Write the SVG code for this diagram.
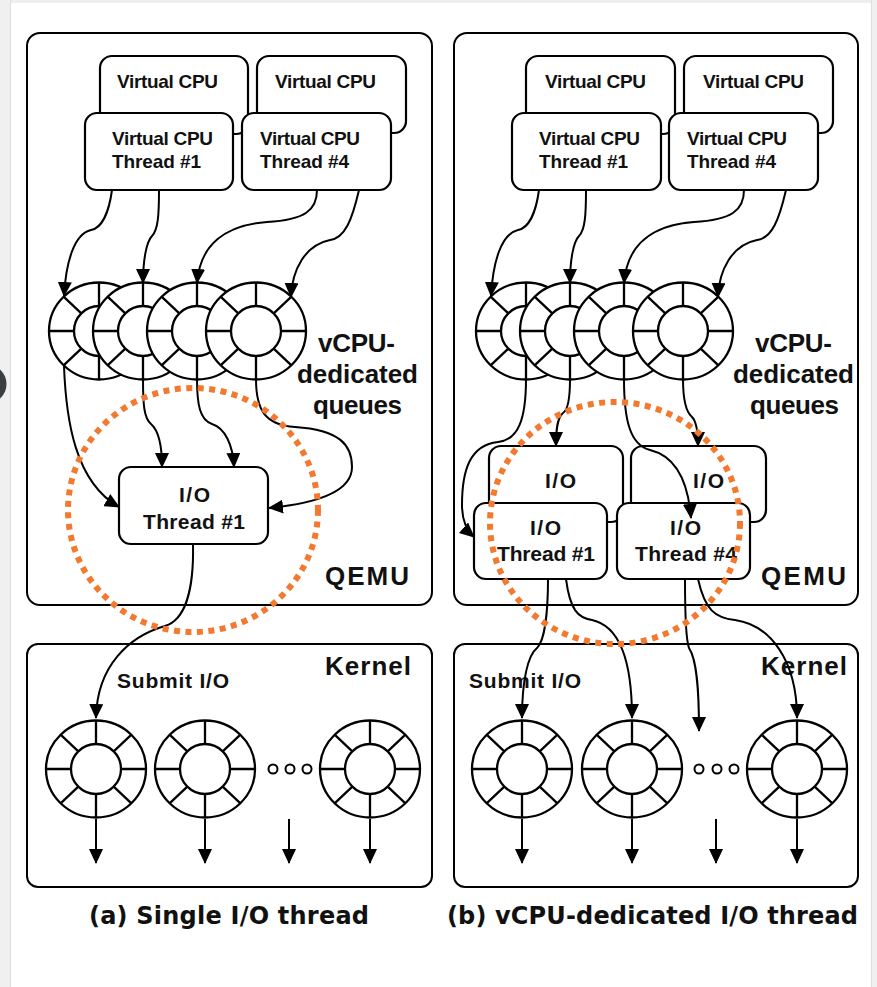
<svg xmlns="http://www.w3.org/2000/svg" xmlns:xlink="http://www.w3.org/1999/xlink" width="877" height="987" viewBox="0 0 877 987">
  <style>
    .frame { fill: #fff; stroke: #000; stroke-width: 2; }
    .box { fill: #fff; stroke: #000; stroke-width: 2.2; }
    .ringline { stroke: #000; stroke-width: 2.3; fill: none; }
    .conn { fill: none; stroke: #000; stroke-width: 2; marker-end: url(#arrow); }
    .t { font-family: "Liberation Sans", Arial, sans-serif; font-weight: bold; fill: #111; }
    .sm { font-size: 19px; }
    .md { font-size: 21px; }
    .lg { font-size: 26px; }
    .cap { font-family: "DejaVu Sans", "Liberation Sans", sans-serif; font-weight: bold; font-size: 24px; fill: #111; }
    .focus { fill: none; stroke: #F27A30; stroke-width: 6; stroke-dasharray: 6 5.5; }
  </style>
  <defs>
    <marker id="arrow" viewBox="0 0 15 14" refX="14" refY="7" markerWidth="15" markerHeight="14" markerUnits="userSpaceOnUse" orient="auto">
      <path d="M0,0 L15,7 L0,14 Z" fill="#000"/>
    </marker>
    <g id="ring">
      <ellipse rx="50" ry="48.5" fill="#fff" stroke="#000" stroke-width="2.3"/>
      <path class="ringline" d="M0,-48.5V-25 M0,25V48.5 M-50,0H-25 M25,0H50 M-35.4,-34.3L-17.7,-17.7 M35.4,-34.3L17.7,-17.7 M-35.4,34.3L-17.7,17.7 M35.4,34.3L17.7,17.7"/>
      <circle r="25" fill="#fff" stroke="#000" stroke-width="2.3"/>
    </g>
  </defs>

  <!-- page background and window edges -->
  <rect width="877" height="987" fill="#fff"/>
  <rect x="0" y="0" width="877" height="3" fill="#eeeeee"/>
  <rect x="0" y="0" width="10" height="987" fill="#f0f0f0"/>
  <rect x="10" y="0" width="1" height="987" fill="#dedede"/>
  <rect x="872" y="0" width="5" height="987" fill="#f0f0f0"/>
  <rect x="871" y="0" width="1" height="987" fill="#dedede"/>
  <circle cx="-13" cy="384" r="19.5" fill="#3b3e43"/>

  <!-- ===== (a) single I/O thread ===== -->
  <g id="qemu-a"><rect class="frame" x="27" y="33" width="405" height="572" rx="13"/></g>
  <g id="kernel-a"><rect class="frame" x="27" y="644" width="405" height="243" rx="11"/></g>

  <g id="vcpu-a-1"><rect class="box" x="100" y="56" width="148" height="78" rx="12"/><text class="t sm" x="117" y="88" textLength="101">Virtual CPU</text></g>
  <g id="vcpu-a-4"><rect class="box" x="257" y="56" width="149" height="77" rx="12"/><text class="t sm" x="275" y="88" textLength="101">Virtual CPU</text></g>
  <g id="vcpu-thread-a-1"><rect class="box" x="85" y="113" width="148" height="77" rx="12"/><text class="t sm" x="112" y="145" textLength="101">Virtual CPU</text><text class="t sm" x="112" y="168" textLength="89">Thread #1</text></g>
  <g id="vcpu-thread-a-4"><rect class="box" x="242" y="113" width="149" height="77" rx="12"/><text class="t sm" x="260" y="145" textLength="100">Virtual CPU</text><text class="t sm" x="260" y="168" textLength="89">Thread #4</text></g>

  <g id="queue-a-1"><use xlink:href="#ring" x="99" y="331"/></g>
  <g id="queue-a-2"><use xlink:href="#ring" x="143" y="331"/></g>
  <g id="queue-a-3"><use xlink:href="#ring" x="197" y="331"/></g>
  <g id="queue-a-4"><use xlink:href="#ring" x="256" y="331"/></g>
  <g id="queues-label-a"><text class="t lg" x="318" y="352" textLength="77">vCPU-</text><text class="t lg" x="297" y="383" textLength="121">dedicated</text><text class="t lg" x="313" y="414" textLength="89">queues</text></g>

  <g id="io-thread-a-1"><rect class="box" x="119" y="467" width="149" height="77" rx="12"/><text class="t md" x="179" y="502" textLength="31">I/O</text><text class="t md" x="143" y="529" textLength="102">Thread #1</text></g>
  <g id="qemu-label-a"><text class="t lg" x="325" y="585" textLength="84">QEMU</text></g>

  <g id="kernel-label-a"><text class="t lg" x="325" y="675" textLength="86">Kernel</text><text class="t md" x="117" y="688" textLength="112">Submit I/O</text></g>
  <g id="hwq-a-1"><use xlink:href="#ring" x="96" y="769"/></g>
  <g id="hwq-a-2"><use xlink:href="#ring" x="205" y="769"/></g>
  <g id="hwq-a-n"><use xlink:href="#ring" x="370" y="769"/></g>
  <g id="ellipsis-a" fill="#fff" stroke="#000" stroke-width="2"><circle cx="273" cy="769" r="4.5"/><circle cx="290" cy="769" r="4.5"/><circle cx="307" cy="769" r="4.5"/></g>

  <g id="connectors-a">
    <path class="conn" d="M112,190 C109,212 102,228 91,230 C74,234 66,262 64,296"/>
    <path class="conn" d="M159,190 C159,215 158,230 152,236 C146,242 143,262 143,283"/>
    <path class="conn" d="M317,190 C317,210 305,220 267,222 C225,225 200,245 197,283"/>
    <path class="conn" d="M359,190 C352,220 345,238 330,240 C305,245 292,270 291,297"/>
    <path class="conn" d="M64,366 C66,420 75,482 119,507"/>
    <path class="conn" d="M143,379 C143,405 144,418 151,424 C158,430 162,445 162,467"/>
    <path class="conn" d="M197,379 C197,405 200,420 212,424 C225,428 233,445 234,467"/>
    <path class="conn" d="M256,379 C256,410 265,425 295,427 C340,430 352,445 352,467 C352,490 320,503 269,508"/>
    <path class="conn" d="M193,544 C194,590 185,620 165,626 C130,636 97,665 96,718"/>
    <path class="conn" d="M96,819 V863"/>
    <path class="conn" d="M205,819 V863"/>
    <path class="conn" d="M289,819 V863"/>
    <path class="conn" d="M370,819 V863"/>
  </g>
  <ellipse id="focus-a" class="focus" cx="193" cy="510" rx="125" ry="122"/>
  <text class="cap" x="89" y="924" textLength="280">(a) Single I/O thread</text>

  <!-- ===== (b) vCPU-dedicated I/O thread ===== -->
  <g id="qemu-b"><rect class="frame" x="454" y="33" width="404" height="572" rx="13"/></g>
  <g id="kernel-b"><rect class="frame" x="454" y="644" width="404" height="243" rx="11"/></g>

  <g id="vcpu-b-1"><rect class="box" x="526" y="56" width="149" height="78" rx="12"/><text class="t sm" x="545" y="88" textLength="101">Virtual CPU</text></g>
  <g id="vcpu-b-4"><rect class="box" x="684" y="56" width="149" height="77" rx="12"/><text class="t sm" x="703" y="88" textLength="101">Virtual CPU</text></g>
  <g id="vcpu-thread-b-1"><rect class="box" x="512" y="113" width="149" height="77" rx="12"/><text class="t sm" x="539" y="145" textLength="101">Virtual CPU</text><text class="t sm" x="539" y="168" textLength="89">Thread #1</text></g>
  <g id="vcpu-thread-b-4"><rect class="box" x="669" y="113" width="149" height="77" rx="12"/><text class="t sm" x="687" y="145" textLength="100">Virtual CPU</text><text class="t sm" x="687" y="168" textLength="89">Thread #4</text></g>

  <g id="queue-b-1"><use xlink:href="#ring" x="526" y="331"/></g>
  <g id="queue-b-2"><use xlink:href="#ring" x="570" y="331"/></g>
  <g id="queue-b-3"><use xlink:href="#ring" x="624" y="331"/></g>
  <g id="queue-b-4"><use xlink:href="#ring" x="683" y="331"/></g>
  <g id="queues-label-b"><text class="t lg" x="755" y="352" textLength="77">vCPU-</text><text class="t lg" x="733" y="383" textLength="121">dedicated</text><text class="t lg" x="750" y="414" textLength="89">queues</text></g>

  <g id="io-b-1"><rect class="box" x="489" y="446" width="134" height="76" rx="12"/><text class="t md" x="545" y="488" textLength="31">I/O</text></g>
  <g id="io-b-4"><rect class="box" x="631" y="446" width="135" height="76" rx="12"/><text class="t md" x="693" y="488" textLength="31">I/O</text></g>
  <g id="io-thread-b-1"><rect class="box" x="474" y="503" width="133" height="76" rx="12"/><text class="t md" x="530" y="535" textLength="31">I/O</text><text class="t md" x="497" y="561" textLength="98">Thread #1</text></g>
  <g id="io-thread-b-4"><rect class="box" x="617" y="503" width="133" height="76" rx="12"/><text class="t md" x="670" y="535" textLength="31">I/O</text><text class="t md" x="635" y="561" textLength="102">Thread #4</text></g>
  <g id="qemu-label-b"><text class="t lg" x="761" y="585" textLength="85">QEMU</text></g>

  <g id="kernel-label-b"><text class="t lg" x="761" y="675" textLength="86">Kernel</text><text class="t md" x="469" y="688" textLength="112">Submit I/O</text></g>
  <g id="hwq-b-1"><use xlink:href="#ring" x="522" y="769"/></g>
  <g id="hwq-b-2"><use xlink:href="#ring" x="632" y="769"/></g>
  <g id="hwq-b-n"><use xlink:href="#ring" x="797" y="769"/></g>
  <g id="ellipsis-b" fill="#fff" stroke="#000" stroke-width="2"><circle cx="699" cy="769" r="4.5"/><circle cx="717" cy="769" r="4.5"/><circle cx="734" cy="769" r="4.5"/></g>

  <g id="connectors-b">
    <path class="conn" d="M539,190 C536,212 529,228 518,230 C501,234 493,262 491,296"/>
    <path class="conn" d="M586,190 C586,215 585,230 579,236 C573,242 570,262 570,283"/>
    <path class="conn" d="M744,190 C744,210 732,220 694,222 C652,225 627,245 624,283"/>
    <path class="conn" d="M786,190 C779,220 772,238 757,240 C732,245 719,270 718,297"/>
    <path class="conn" d="M526,379 C526,420 518,440 498,442 C470,445 462,470 462,505 C462,520 466,530 474,537"/>
    <path class="conn" d="M570,379 C570,400 568,410 563,413 C557,418 556,430 556,446"/>
    <path class="conn" d="M624,379 C624,420 630,445 650,450 C675,456 688,480 691,518"/>
    <path class="conn" d="M683,379 C683,400 686,412 692,417 C697,422 698,432 698,446"/>
    <path class="conn" d="M548,579 C548,610 545,640 537,648 C528,655 522,680 522,718"/>
    <path class="conn" d="M566,579 C570,610 578,618 592,620 C615,625 632,650 632,718"/>
    <path class="conn" d="M685,579 C685,610 686,640 689,648 C697,660 699,690 699,731"/>
    <path class="conn" d="M698,579 C705,610 715,618 735,620 C770,625 797,660 797,718"/>
    <path class="conn" d="M522,819 V863"/>
    <path class="conn" d="M632,819 V863"/>
    <path class="conn" d="M716,819 V863"/>
    <path class="conn" d="M797,819 V863"/>
  </g>
  <ellipse id="focus-b" class="focus" cx="615" cy="523" rx="125" ry="121"/>
  <text class="cap" x="447" y="924" textLength="411">(b) vCPU-dedicated I/O thread</text>
</svg>
